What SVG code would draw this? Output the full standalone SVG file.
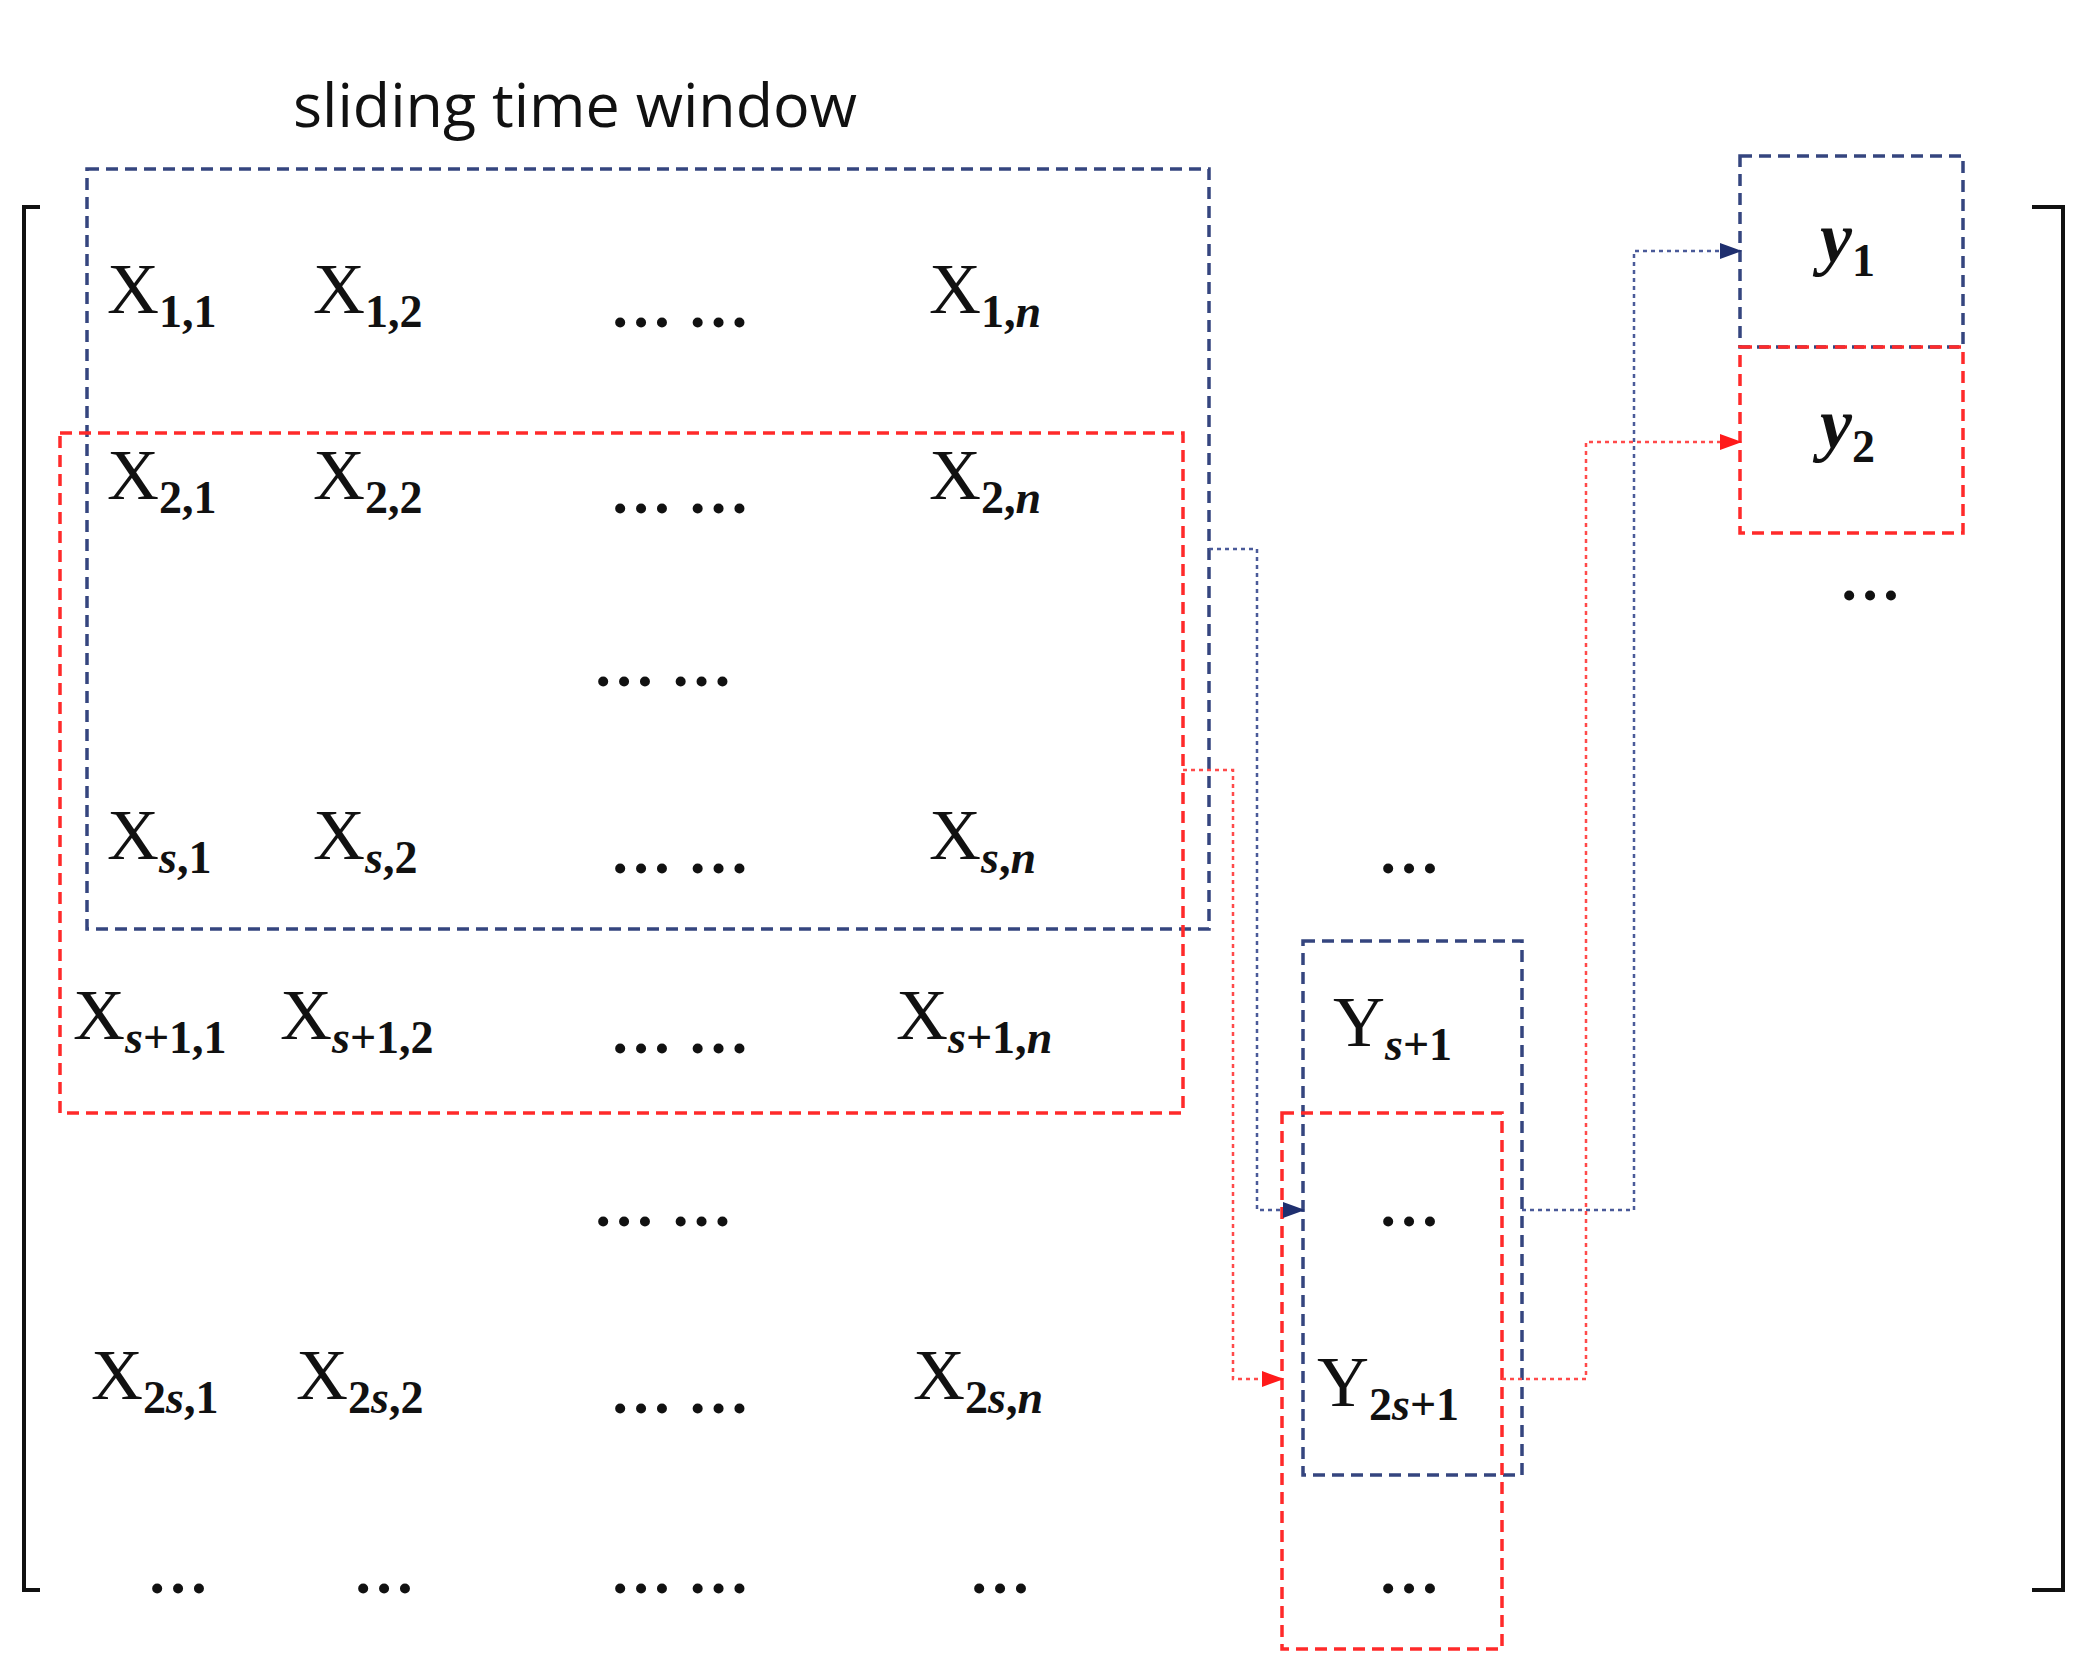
<svg xmlns="http://www.w3.org/2000/svg" width="2079" height="1668" viewBox="0 0 2079 1668">
<defs>
<marker id="ab" markerWidth="22" markerHeight="16" refX="20" refY="8" orient="auto" markerUnits="userSpaceOnUse"><path d="M0,0 L22,8 L0,16 z" fill="#1f2f6f"/></marker>
<marker id="ar" markerWidth="22" markerHeight="16" refX="20" refY="8" orient="auto" markerUnits="userSpaceOnUse"><path d="M0,0 L22,8 L0,16 z" fill="#ff1a1a"/></marker>
</defs>
<style>
.bb{fill:none;stroke:#35457f;stroke-width:3.5;stroke-dasharray:12 7}
.rb{fill:none;stroke:#ff2a2a;stroke-width:3.5;stroke-dasharray:12 7}
.bc{fill:none;stroke:#4a5a99;stroke-width:2.5;stroke-dasharray:4 4}
.rc{fill:none;stroke:#ff4a4a;stroke-width:2.5;stroke-dasharray:4 4}
.x{font-family:"Liberation Serif",serif;font-size:72px;fill:#111}
.sub{font-size:46px;font-weight:bold}
.it{font-style:italic}
.d{font-family:"Liberation Serif",serif;font-size:62px;font-weight:bold;fill:#111}
.t{font-family:"Open Sans","Liberation Sans",sans-serif;font-size:61px;fill:#111}
.br{fill:none;stroke:#111;stroke-width:4}
</style>
<rect width="2079" height="1668" fill="#fff"/>
<text class="t" x="293" y="127">sliding time window</text>
<g id="brackets">
<path class="br" d="M40,207 H24 V1590 H40"/>
<path class="br" d="M2032,207 H2063 V1590 H2032"/>
</g>
<g id="window1"><rect class="bb" x="87" y="169" width="1122" height="760"/></g>
<g id="window2"><rect class="rb" x="60" y="433" width="1123" height="680"/></g>
<g id="matrix">
<text class="x" x="107" y="313">X<tspan class="sub" dy="14">1,1</tspan></text>
<text class="x" x="313" y="313">X<tspan class="sub" dy="14">1,2</tspan></text>
<text class="d" x="610" y="327">… …</text>
<text class="x" x="929" y="313">X<tspan class="sub" dy="14">1,<tspan class="it">n</tspan></tspan></text>
<text class="x" x="107" y="499">X<tspan class="sub" dy="14">2,1</tspan></text>
<text class="x" x="313" y="499">X<tspan class="sub" dy="14">2,2</tspan></text>
<text class="d" x="610" y="513">… …</text>
<text class="x" x="929" y="499">X<tspan class="sub" dy="14">2,<tspan class="it">n</tspan></tspan></text>
<text class="d" x="593" y="686">… …</text>
<text class="x" x="107" y="859">X<tspan class="sub it" dy="14">s</tspan><tspan class="sub">,1</tspan></text>
<text class="x" x="313" y="859">X<tspan class="sub it" dy="14">s</tspan><tspan class="sub">,2</tspan></text>
<text class="d" x="610" y="873">… …</text>
<text class="x" x="929" y="859">X<tspan class="sub it" dy="14">s</tspan><tspan class="sub">,<tspan class="it">n</tspan></tspan></text>
<text class="x" x="73" y="1039">X<tspan class="sub it" dy="14">s</tspan><tspan class="sub">+1,1</tspan></text>
<text class="x" x="280" y="1039">X<tspan class="sub it" dy="14">s</tspan><tspan class="sub">+1,2</tspan></text>
<text class="d" x="610" y="1053">… …</text>
<text class="x" x="896" y="1039">X<tspan class="sub it" dy="14">s</tspan><tspan class="sub">+1,<tspan class="it">n</tspan></tspan></text>
<text class="d" x="593" y="1226">… …</text>
<text class="x" x="91" y="1399">X<tspan class="sub" dy="14">2<tspan class="it">s</tspan>,1</tspan></text>
<text class="x" x="296" y="1399">X<tspan class="sub" dy="14">2<tspan class="it">s</tspan>,2</tspan></text>
<text class="d" x="610" y="1413">… …</text>
<text class="x" x="913" y="1399">X<tspan class="sub" dy="14">2<tspan class="it">s</tspan>,<tspan class="it">n</tspan></tspan></text>
<text class="d" x="147" y="1593">…</text>
<text class="d" x="353" y="1593">…</text>
<text class="d" x="610" y="1593">… …</text>
<text class="d" x="969" y="1593">…</text>
</g>
<g id="ycol">
<text class="d" x="1378" y="873">…</text>
<rect class="bb" x="1303" y="941" width="219" height="534"/>
<rect class="rb" x="1282" y="1113" width="220" height="536"/>
<text class="x" x="1333" y="1046">Y<tspan class="sub" dy="14"><tspan class="it">s</tspan>+1</tspan></text>
<text class="d" x="1378" y="1226">…</text>
<text class="x" x="1317" y="1406">Y<tspan class="sub" dy="14">2<tspan class="it">s</tspan>+1</tspan></text>
<text class="d" x="1378" y="1593">…</text>
</g>
<g id="targets">
<rect class="bb" x="1740" y="156" width="223" height="191"/>
<rect class="rb" x="1740" y="347" width="223" height="186"/>
<text class="x" x="1820" y="262" font-weight="bold" font-style="italic" font-size="84">y<tspan class="sub" dy="14" font-style="normal">1</tspan></text>
<text class="x" x="1820" y="448" font-weight="bold" font-style="italic" font-size="84">y<tspan class="sub" dy="14" font-style="normal">2</tspan></text>
<text class="d" x="1839" y="600">…</text>
</g>
<g id="connectors">
<path class="bc" d="M1209,549 H1257 V1210 H1303" marker-end="url(#ab)"/>
<path class="bc" d="M1522,1210 H1634 V251 H1740" marker-end="url(#ab)"/>
<path class="rc" d="M1183,770 H1233 V1379 H1282" marker-end="url(#ar)"/>
<path class="rc" d="M1502,1379 H1586 V442 H1740" marker-end="url(#ar)"/>
</g>
</svg>
